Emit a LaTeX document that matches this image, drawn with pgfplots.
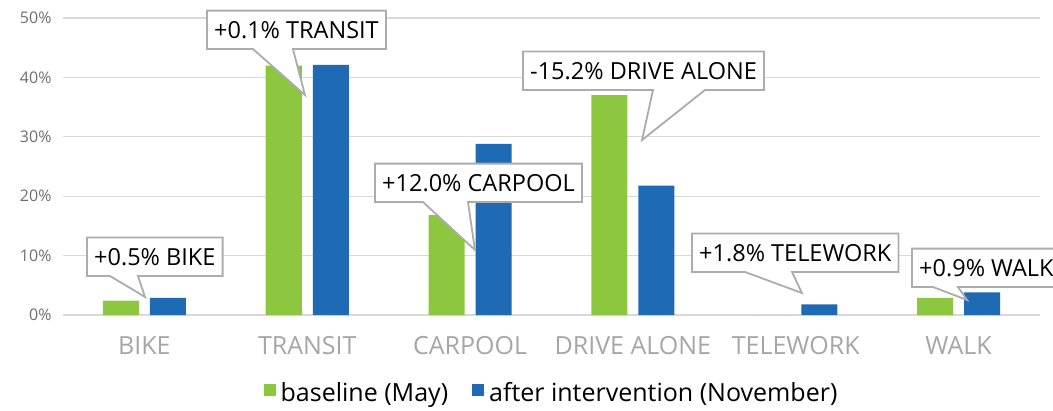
\documentclass[border=0pt]{standalone}
\usepackage{fontspec}
\setmainfont{Open Sans}
\usepackage{pgfplots}
\pgfplotsset{compat=1.18}
\definecolor{cgreen}{RGB}{141,198,63}
\definecolor{cblue}{RGB}{30,106,180}
\definecolor{cgrid}{RGB}{217,217,217}
\definecolor{ctick}{RGB}{110,110,110}
\definecolor{ccat}{RGB}{166,166,166}
\definecolor{cbox}{RGB}{172,172,172}
\tikzset{calltext/.style={anchor=south west, inner xsep=7pt, inner ysep=10.5pt,
  text height=17pt, text depth=0pt, text=black, font=\fontsize{23.5}{28}\selectfont}}
% #1 lower-left corner (axis cs), #2 text, #3 base left offset, #4 base right offset, #5 tip (axis cs)
\newcommand{\callout}[5]{%
  \node[calltext, name=cb] at (axis cs:#1) {#2};
  \draw[cbox, line width=1.8pt, fill=white, line join=miter]
    (cb.south west) -- ([xshift=#3]cb.south west) -- (axis cs:#5) -- ([xshift=#4]cb.south west)
    -- (cb.south east) -- (cb.north east) -- (cb.north west) -- cycle;
  \node[calltext] at (axis cs:#1) {#2};
}
\begin{document}
\begin{tikzpicture}[x=1pt,y=1pt]
\useasboundingbox (-63,-95) rectangle (990,315);
\begin{axis}[
  scale only axis, width=977pt, height=297pt,
  ybar=11pt, bar width=36pt,
  xmin=-0.5, xmax=5.5, ymin=0, ymax=50,
  xtick={0,...,5},
  xticklabels={BIKE,TRANSIT,CARPOOL,DRIVE ALONE,TELEWORK,WALK},
  ytick={0,10,...,50},
  yticklabel={\pgfmathprintnumber{\tick}\%},
  /pgf/number format/assume math mode=true,
  axis line style={draw=none},
  major tick length=0pt,
  ymajorgrids, grid style={cgrid, line width=1.2pt},
  yticklabel style={text=ctick, font=\fontsize{16}{19}\selectfont, xshift=-8pt},
  xticklabel style={text=ccat, font=\fontsize{25}{30}\selectfont, yshift=-18pt},
  clip=false,
  legend style={at={(0.5,-0.262)}, anchor=center, draw=none, legend columns=2,
    font=\fontsize{25}{29}\selectfont,
    /tikz/every even column/.append style={column sep=22pt}},
  legend image code/.code={\path (0pt,0pt) -- (15pt,0pt); \fill[#1] (0pt,-3pt) rectangle (12pt,9pt);},
]
\addplot[fill=cgreen, draw=none] coordinates {(0,2.4) (1,42.0) (2,16.8) (3,37.0) (4,0) (5,2.9)};
\addplot[fill=cblue, draw=none] coordinates {(0,2.9) (1,42.1) (2,28.8) (3,21.8) (4,1.8) (5,3.8)};
\legend{baseline (May), after intervention (November)}
\callout{-0.353,6.57}{+0.5\% BIKE}{23pt}{51pt}{0.004,3.03}
\callout{0.384,44.78}{+0.1\% TRANSIT}{46pt}{86pt}{0.986,37.04}
\callout{1.416,19.02}{+12.0\% CARPOOL}{48pt}{93pt}{2.030,10.94}
\callout{2.325,37.88}{-15.2\% DRIVE ALONE}{130pt}{182pt}{3.056,29.46}
\callout{3.363,7.24}{+1.8\% TELEWORK}{53pt}{100pt}{4.038,3.70}
\callout{4.714,4.71}{+0.9\% WALK}{21pt}{46pt}{5.052,2.53}
\end{axis}
\end{tikzpicture}
\end{document}
